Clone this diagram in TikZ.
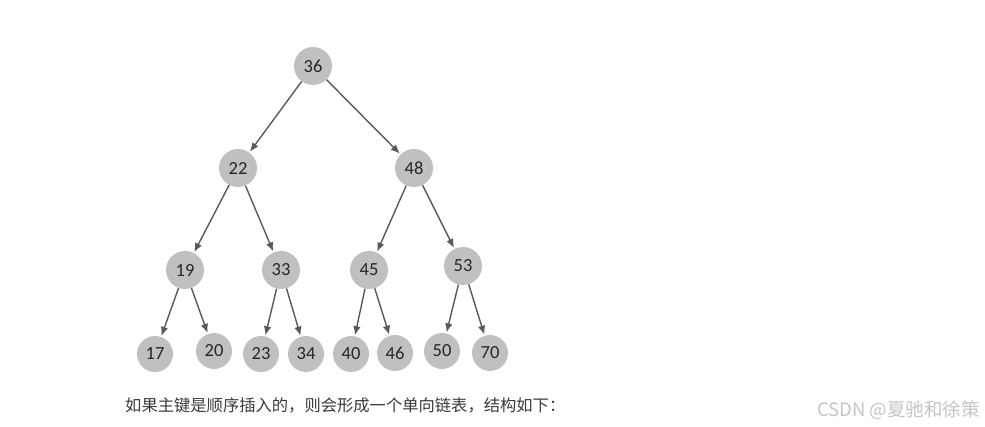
\documentclass[tikz,border=0pt]{standalone}
\usepackage{fontspec}
\setmainfont{Carlito}
\newfontfamily\cjk{Noto Sans CJK SC}
\usetikzlibrary{arrows.meta}
\definecolor{nodegray}{HTML}{C0C0C0}
\definecolor{edgegray}{HTML}{595959}
\definecolor{txtgray}{HTML}{3A3A3A}
\definecolor{wmgray}{HTML}{C4C4C4}
\begin{document}
\begin{tikzpicture}[x=1pt,y=-1pt,
  tnode/.style={circle,fill=nodegray,draw=none,minimum size=38pt,inner sep=0pt,font=\fontsize{18.5}{20}\selectfont,text=black!85},
  leaf/.style={tnode,minimum size=36pt},
  edge/.style={draw=edgegray,line width=1.4pt,-{Latex[length=9pt,width=7.5pt]},shorten >=1pt}]
\useasboundingbox (0,0) rectangle (985,427);
\node[tnode] (n36) at (313,66) {36};
\node[tnode] (n22) at (238,168) {22};
\node[tnode] (n48) at (414,168) {48};
\node[tnode] (n19) at (185,270) {19};
\node[tnode] (n33) at (281,270) {33};
\node[tnode] (n45) at (369,270) {45};
\node[tnode] (n53) at (463,266) {53};
\node[leaf] (n17) at (155,354) {17};
\node[leaf] (n20) at (214,351) {20};
\node[leaf] (n23) at (261,354) {23};
\node[leaf] (n34) at (306,354) {34};
\node[leaf] (n40) at (351,354) {40};
\node[leaf] (n46) at (395,353) {46};
\node[leaf] (n50) at (442,351) {50};
\node[leaf] (n70) at (490,353) {70};
\draw[edge] (n36) -- (n22);
\draw[edge] (n36) -- (n48);
\draw[edge] (n22) -- (n19);
\draw[edge] (n22) -- (n33);
\draw[edge] (n48) -- (n45);
\draw[edge] (n48) -- (n53);
\draw[edge] (n19) -- (n17);
\draw[edge] (n19) -- (n20);
\draw[edge] (n33) -- (n23);
\draw[edge] (n33) -- (n34);
\draw[edge] (n45) -- (n40);
\draw[edge] (n45) -- (n46);
\draw[edge] (n53) -- (n50);
\draw[edge] (n53) -- (n70);
\node[anchor=west,inner sep=0pt,text=txtgray,font=\cjk\fontsize{16.3}{18}\selectfont] (cap) at (125,405) {如果主键是顺序插入的，则会形成一个单向链表，结构如下：};
\node[anchor=east,inner sep=0pt,text=wmgray,font=\cjk\fontsize{18.5}{20}\selectfont] (wm) at (980,410) {CSDN @夏驰和徐策};
\end{tikzpicture}
\end{document}
